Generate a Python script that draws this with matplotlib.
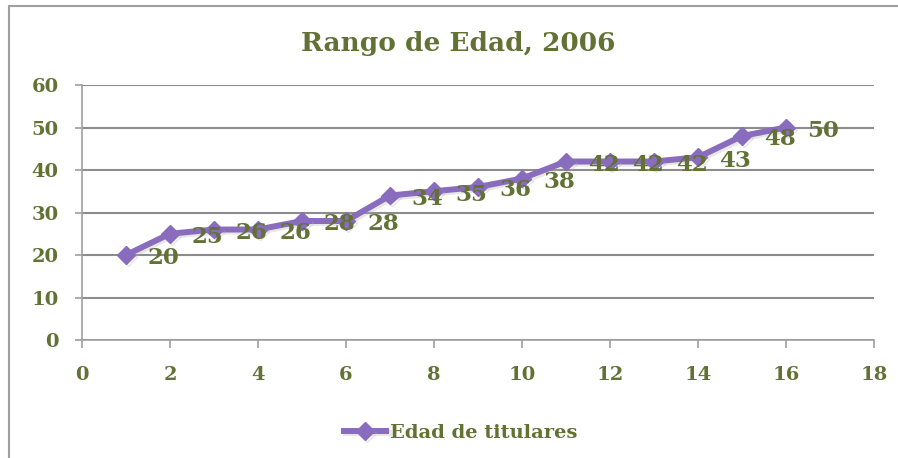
import matplotlib
matplotlib.use("Agg")
import matplotlib.pyplot as plt
import matplotlib.patheffects as pe
from matplotlib.patches import Rectangle

# Data
x_vals = [1, 2, 3, 4, 5, 6, 7, 8, 9, 10, 11, 12, 13, 14, 15, 16]
edades = [20, 25, 26, 26, 28, 28, 34, 35, 36, 38, 42, 42, 42, 43, 48, 50]
x_ticks = [0, 2, 4, 6, 8, 10, 12, 14, 16, 18]
y_ticks = [0, 10, 20, 30, 40, 50, 60]

TEXT = '#617234'
LINE = '#8a6cbe'
GRID = '#8c8c8c'
FONT = 'DejaVu Serif'

fig = plt.figure(figsize=(8.98, 4.58), dpi=100)
ax = fig.add_axes([0.0913, 0.2576, 0.882, 0.5568])

# outer chart border (cut off at right/bottom)
fig.patches.append(Rectangle((9 / 898, -0.1), 1.2, 1 - 6 / 458 + 0.1,
                             transform=fig.transFigure, fill=False,
                             edgecolor='#a0a0a0', linewidth=1.5))

line, = ax.plot(x_vals, edades, color=LINE, linewidth=4.3, marker='D',
                markersize=9, solid_joinstyle='round',
                label='Edad de titulares', zorder=3)
line.set_path_effects([pe.SimpleLineShadow(offset=(1.5, -1.5), shadow_color='#b0b0b0', alpha=0.3),
                       pe.Normal()])

# value labels, pushed right and a bit down like the original
for x, y in zip(x_vals, edades):
    ax.annotate(f"{y}", (x, y), textcoords='offset points', xytext=(27, -2.5),
                ha='center', va='center', fontsize=16.5, fontweight='bold',
                color=TEXT, family=FONT, zorder=4)

ax.set_xlim(0, 18)
ax.set_ylim(0, 60)
ax.set_xticks(x_ticks)
ax.set_yticks(y_ticks)
ax.grid(axis='y', color=GRID, linewidth=1.5)
ax.set_axisbelow(True)

for s in ['top', 'right']:
    ax.spines[s].set_visible(False)
for s in ['left', 'bottom']:
    ax.spines[s].set_color('#a0a0a0')
    ax.spines[s].set_linewidth(1.2)

ax.tick_params(axis='x', length=6, width=1.2, color='#a0a0a0', pad=13,
               labelsize=14, labelcolor=TEXT)
ax.tick_params(axis='y', length=5, width=1.2, color='#a0a0a0', pad=12,
               labelsize=14, labelcolor=TEXT)
for lbl in ax.get_xticklabels() + ax.get_yticklabels():
    lbl.set_fontweight('bold')
    lbl.set_family(FONT)

fig.text(0.51, 0.905, 'Rango de Edad, 2006', ha='center', va='center',
         fontsize=19, fontweight='bold', color=TEXT, family=FONT)

leg = fig.legend(handles=[line], loc='center', bbox_to_anchor=(0.513, 0.055),
                 frameon=False, handlelength=2.2, handletextpad=0.2,
                 prop={'family': FONT, 'weight': 'bold', 'size': 14})
for t in leg.get_texts():
    t.set_color(TEXT)

fig.savefig('out.png', dpi=100)
